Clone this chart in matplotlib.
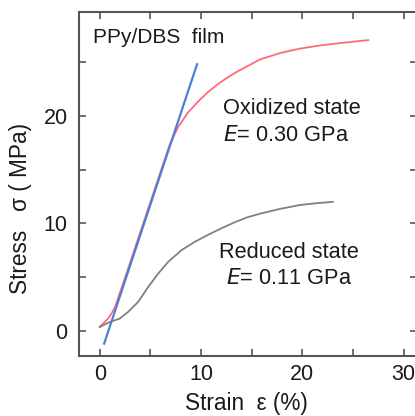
import numpy as np
from matplotlib import pyplot as plt

# Stress-strain data (strain in %, stress in MPa)
# Oxidized film (red)
oxStrain = [0.0, 0.82, 1.15, 1.5, 2.5, 3.5, 4.5, 5.5, 6.5, 6.9, 7.73, 8.72, 9.7, 10.7,
            11.85, 12.8, 13.8, 15.8, 17.8, 19.7, 21.7, 23.7, 26.5]
oxStress = [0.4, 1.18, 1.64, 2.25, 5.0, 7.8, 10.6, 13.4, 16.2, 17.3, 18.95, 20.3, 21.3, 22.2,
            23.05, 23.65, 24.2, 25.2, 25.8, 26.2, 26.5, 26.72, 27.0]

# Reduced film (gray)
redStrain = [0.0, 0.99, 1.97, 2.8, 3.78, 4.77, 5.76, 6.74, 8.06, 9.38, 10.7, 12.0, 13.3,
             14.5, 15.8, 17.8, 19.7, 21.4, 23.0]
redStress = [0.4, 0.86, 1.18, 1.8, 2.72, 4.1, 5.35, 6.43, 7.52, 8.3, 8.95, 9.55, 10.1,
             10.55, 10.9, 11.35, 11.7, 11.88, 12.0]

# Linear fit for the modulus (blue line), end points
fitStrain = [0.43, 9.6]
fitStress = [-1.14, 24.76]

plt.rcParams['font.family'] = ['Liberation Sans', 'DejaVu Sans']

fig = plt.figure(figsize=(4.15, 4.16), dpi=100)
ax = fig.add_axes([0.190, 0.144, 0.8145, 0.827])

ax.plot(oxStrain, oxStress, color='#ff6a78', lw=1.3)
ax.plot(redStrain, redStress, color='#808080', lw=1.3)
ax.plot(fitStrain, fitStress, color='#4d80d0', lw=1.6)

ax.set_xlim(-2.07, 31.3)
ax.set_ylim(-2.3, 29.6)
ax.set_xticks([0, 10, 20, 30])
ax.set_yticks([0, 10, 20])
ax.set_xticks([5, 15, 25], minor=True)
ax.set_yticks([5, 15, 25], minor=True)
ax.tick_params(which='both', direction='in', top=True, right=True,
               length=5, width=1.2, color='#555555', labelsize=15.5,
               labelcolor='#1a1a1a')
ax.tick_params(axis='x', pad=6)
ax.tick_params(axis='y', pad=8)
for sp in ax.spines.values():
    sp.set_color('#555555')
    sp.set_linewidth(1.5)

ax.set_xlabel("Strain  \u03b5 (%)", fontsize=16.3, color='#1a1a1a', va='center')
ax.xaxis.set_label_coords((247 - 79) / 338.0, (356 - 403) / 344.0)
ax.set_ylabel("Stress   \u03c3 ( MPa)", fontsize=16.3, color='#1a1a1a', va='center')
ax.yaxis.set_label_coords((21 - 79) / 338.0, (356 - 208) / 344.0)

ax.text(-0.7, 27.2, "PPy/DBS  film", fontsize=15, color='#1a1a1a', va='center')
ax.text(12.2, 20.7, "Oxidized state", fontsize=15.7, color='#1a1a1a', va='center')
ax.text(12.2, 18.2, "$\\it{E}$= 0.30 GPa", fontsize=15.7, color='#1a1a1a', va='center')
ax.text(18.7, 7.3, "Reduced state", fontsize=15.7, color='#1a1a1a', va='center', ha='center')
ax.text(18.7, 4.9, "$\\it{E}$= 0.11 GPa", fontsize=15.7, color='#1a1a1a', va='center', ha='center')

plt.savefig("out.png", dpi=100)
